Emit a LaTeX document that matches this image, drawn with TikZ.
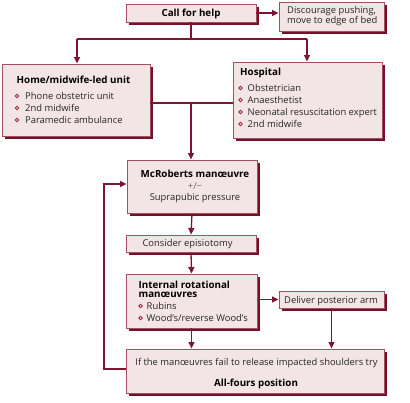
\documentclass[tikz,border=0pt]{standalone}
\usepackage{fontspec}
\setmainfont{Open Sans}
\usetikzlibrary{arrows.meta,shadows}
\definecolor{bordercol}{HTML}{A5505E}
\definecolor{fillcol}{HTML}{F3E5E6}
\definecolor{shadowcol}{HTML}{75102A}
\definecolor{linecol}{HTML}{7D1432}
\definecolor{bulcol}{HTML}{A02A3C}
\tikzset{
  box/.style={draw=bordercol, fill=fillcol, line width=0.9pt, inner sep=0pt,
    general shadow={fill=shadowcol, shadow xshift=3.2pt, shadow yshift=-3.2pt}},
  conn/.style={draw=linecol, line width=1.3pt},
  arr/.style={conn, -{Triangle[length=6.5pt,width=6pt]}},
  txt/.style={inner sep=0pt, font=\fontsize{9.4}{11}\selectfont, text=black!85},
  btxt/.style={inner sep=0pt, font=\fontsize{9.8}{11}\selectfont\bfseries, text=black},
  bul/.style={circle, draw=bulcol, fill=fillcol!60!white, line width=0.9pt, inner sep=0pt, minimum size=3.6pt}
}
\begin{document}
\begin{tikzpicture}[x=1pt,y=-1pt]
\useasboundingbox (0,0) rectangle (410,402);
% boxes
\node[box, minimum width=130pt, minimum height=18pt] (call) at (191,13) {};
\node[box, minimum width=105pt, minimum height=29pt] (disc) at (331.5,16.5) {};
\node[box, minimum width=148pt, minimum height=72pt] (home) at (76,100) {};
\node[box, minimum width=149pt, minimum height=76pt] (hosp) at (307.5,100) {};
\node[box, minimum width=130pt, minimum height=53pt] (mcr) at (192,186.5) {};
\node[box, minimum width=130pt, minimum height=17pt] (epi) at (191,243.5) {};
\node[box, minimum width=131pt, minimum height=54pt] (irm) at (191.5,301) {};
\node[box, minimum width=105pt, minimum height=17pt] (dpa) at (331.5,299.5) {};
\node[box, minimum width=258pt, minimum height=44pt] (fin) at (255,371) {};
% texts
\node[btxt, anchor=base] (tcall) at (191,16.5) {Call for help};
\node[txt, anchor=base west] (td1) at (287,13) {Discourage pushing,};
\node[txt, anchor=base west] (td2) at (287,23.5) {move to edge of bed};
\node[btxt, anchor=base] (thome) at (73.5,83) {Home/midwife-led unit};
\node[bul] (bh1) at (17,96) {};
\node[txt, anchor=base west] (th1) at (25,99) {Phone obstetric unit};
\node[bul] (bh2) at (17,108) {};
\node[txt, anchor=base west] (th2) at (25,111) {2nd midwife};
\node[bul] (bh3) at (17,120) {};
\node[txt, anchor=base west] (th3) at (25,123) {Paramedic ambulance};
\node[btxt, anchor=base west] (thosp) at (240,75.5) {Hospital};
\node[bul] (bp1) at (240.5,88) {};
\node[txt, anchor=base west] (tp1) at (247.5,91) {Obstetrician};
\node[bul] (bp2) at (240.5,100) {};
\node[txt, anchor=base west] (tp2) at (247.5,103) {Anaesthetist};
\node[bul] (bp3) at (240.5,112) {};
\node[txt, anchor=base west] (tp3) at (247.5,115) {Neonatal resuscitation expert};
\node[bul] (bp4) at (240.5,124) {};
\node[txt, anchor=base west] (tp4) at (247.5,127) {2nd midwife};
\node[btxt, anchor=base] (tmcr) at (195,177.5) {McRoberts manœuvre};
\node[txt, anchor=base, text=black!60] (tpm) at (195,189) {+/\textminus};
\node[txt, anchor=base] (tsp) at (195,200) {Suprapubic pressure};
\node[txt, anchor=base] (tepi) at (187.5,246.5) {Consider episiotomy};
\node[btxt, anchor=base west] (tirm1) at (138.5,288) {Internal rotational};
\node[btxt, anchor=base west] (tirm2) at (138.5,297.5) {manœuvres};
\node[bul] (bi1) at (140.5,306) {};
\node[txt, anchor=base west] (ti1) at (146.5,309) {Rubins};
\node[bul] (bi2) at (140.5,318) {};
\node[txt, anchor=base west] (ti2) at (146.5,321) {Wood’s/reverse Wood’s};
\node[txt, anchor=base] (tdpa) at (331,303) {Deliver posterior arm};
\node[txt, anchor=base] (tfin1) at (256.5,365) {If the manœuvres fail to release impacted shoulders try};
\node[btxt, anchor=base] (tfin2) at (256,386.5) {All-fours position};
% connectors
\coordinate (j1) at (191,39);
\coordinate (jl) at (77,39);
\coordinate (jr) at (307,39);
\coordinate (j2) at (191,103);
\coordinate (l1) at (104,369);
\coordinate (l2) at (104,184);
\draw[arr] (call.east) -- (disc.west |- call.east);
\draw[conn] (call.south) -- (j1);
\draw[conn] (jl) -- (jr);
\draw[arr] (jl) -- (jl |- home.north);
\draw[arr] (jr) -- (jr |- hosp.north);
\draw[conn] (home.east |- j2) -- (hosp.west |- j2);
\draw[arr] (j2) -- (j2 |- mcr.north);
\draw[arr] (mcr.south) -- (epi.north);
\draw[arr] (epi.south) -- (irm.north);
\draw[arr] (irm.east |- dpa.west) -- (dpa.west);
\draw[arr] (dpa.south) -- (dpa.south |- fin.north);
\draw[arr] (irm.south) -- (irm.south |- fin.north);
\draw[arr] (fin.west |- l1) -- (l1) -- (l2) -- (mcr.west |- l2);
\end{tikzpicture}
\end{document}
